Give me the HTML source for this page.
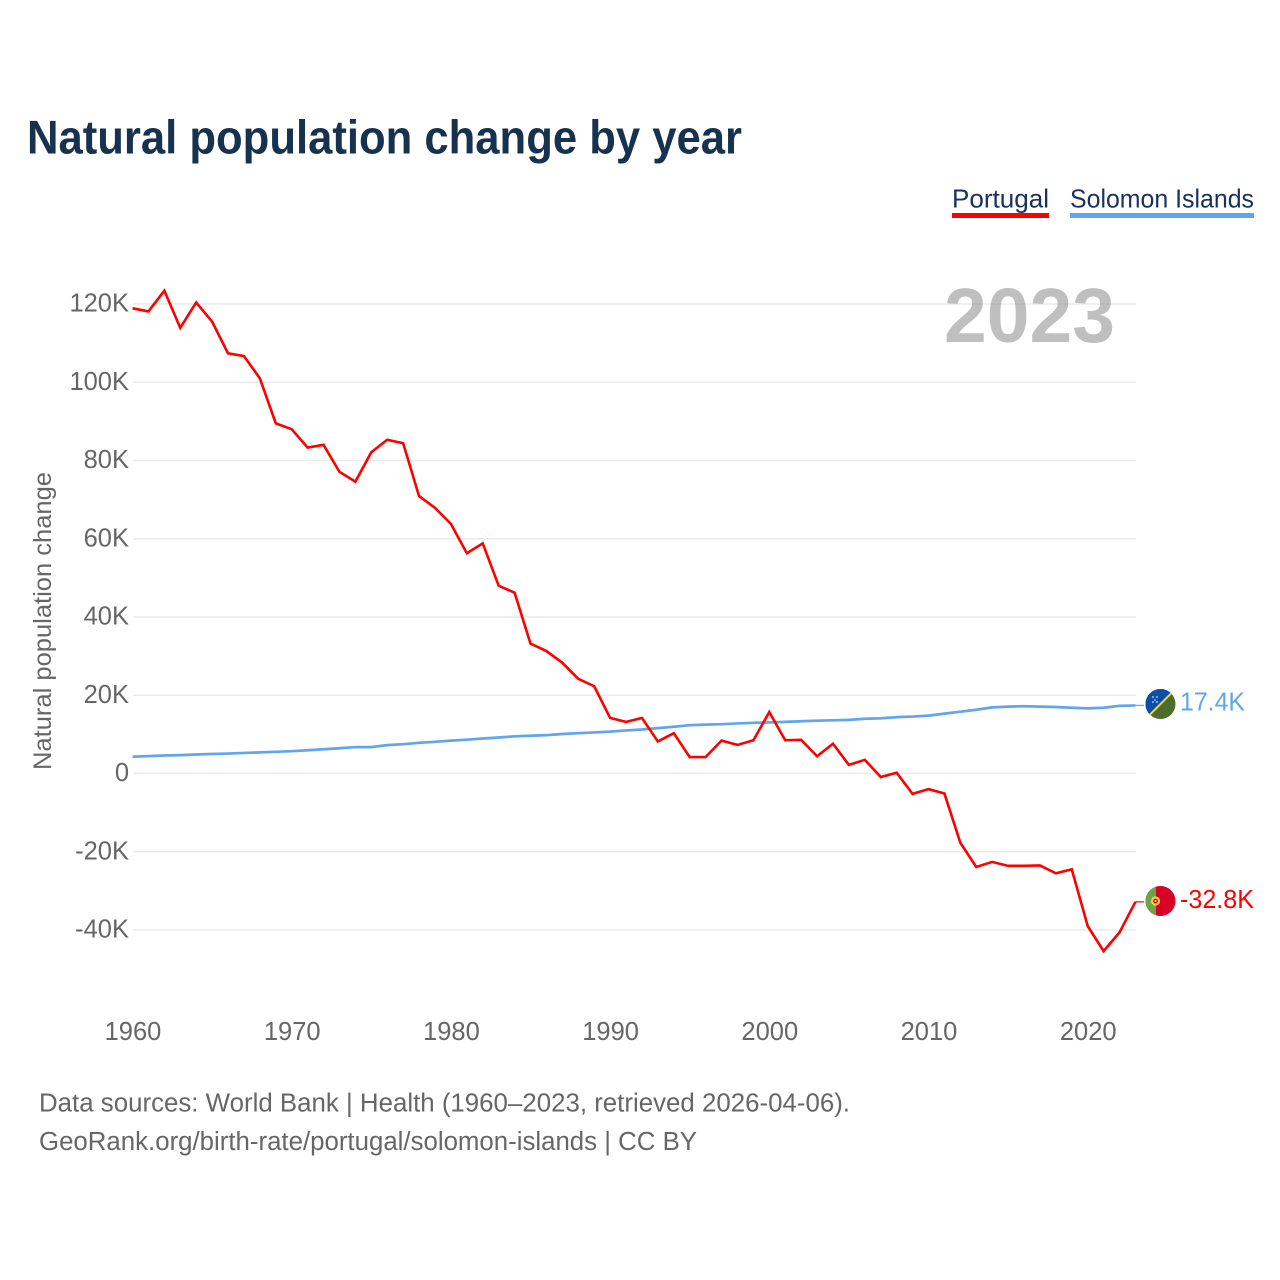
<!DOCTYPE html>
<html lang="en">
<head>
<meta charset="utf-8">
<title>Natural population change by year</title>
<style>
html,body{margin:0;padding:0;background:#fff;}
svg{display:block;font-family:"Liberation Sans",sans-serif;}
</style>
</head>
<body>
<svg id="chart" width="1280" height="1280" viewBox="0 0 1280 1280" xmlns="http://www.w3.org/2000/svg">
  <defs>
    <clipPath id="clip-si"><circle cx="1160.5" cy="704" r="15"/></clipPath>
    <clipPath id="clip-pt"><circle cx="1160.5" cy="901" r="15"/></clipPath>
  </defs>
  <text x="27" y="153.5" font-size="47" font-weight="700" fill="#17324f" textLength="715" lengthAdjust="spacingAndGlyphs">Natural population change by year</text>

  <g>
    <text x="952" y="207.5" font-size="26" fill="#17325c" textLength="97" lengthAdjust="spacingAndGlyphs">Portugal</text>
    <rect x="952" y="213" width="97" height="5" fill="#ff0000"/>
  </g>
  <g>
    <text x="1070" y="207.5" font-size="26" fill="#17325c" textLength="184" lengthAdjust="spacingAndGlyphs">Solomon Islands</text>
    <rect x="1070" y="213" width="184" height="5" fill="#61a5ea"/>
  </g>

  <g id="grid"></g>
  <text x="944" y="342" font-size="77" font-weight="700" fill="#7f7f7f" fill-opacity="0.5" textLength="171" lengthAdjust="spacingAndGlyphs">2023</text>
  <g id="y-ticks"></g>
  <g id="x-ticks"></g>
  <text transform="translate(51,621) rotate(-90)" text-anchor="middle" font-size="25" fill="#666666" textLength="298" lengthAdjust="spacingAndGlyphs">Natural population change</text>

  <g id="series"></g>

  <g clip-path="url(#clip-si)">
    <rect x="1145" y="689" width="31" height="30" fill="#4c6d2c"/>
    <polygon points="1145.5,689 1175.5,689 1145.5,719" fill="#0b50a8"/>
    <line x1="1145.5" y1="719" x2="1175.5" y2="689" stroke="#f7d33c" stroke-width="2"/>
    <g fill="#ffffff">
      <circle cx="1153" cy="697" r="0.8"/><circle cx="1157" cy="697" r="0.8"/>
      <circle cx="1155" cy="700" r="0.8"/><circle cx="1153" cy="702" r="0.8"/>
      <circle cx="1157" cy="702" r="0.8"/>
    </g>
  </g>
  <g clip-path="url(#clip-pt)">
    <rect x="1145" y="886" width="31" height="30" fill="#d80027"/>
    <rect x="1145" y="886" width="11" height="30" fill="#6da544"/>
    <circle cx="1155.5" cy="901" r="4.6" fill="#f5d33c"/>
    <circle cx="1155.5" cy="901" r="2.4" fill="#d80027"/>
    <circle cx="1155.5" cy="901" r="1" fill="#ffffff"/>
  </g>
  <text x="1180" y="710.5" font-size="25.5" fill="#61a5ea" textLength="65" lengthAdjust="spacingAndGlyphs">17.4K</text>
  <text x="1180" y="908" font-size="25.5" fill="#ff0000" textLength="74" lengthAdjust="spacingAndGlyphs">-32.8K</text>

  <text x="39" y="1111.5" font-size="25.5" fill="#666666" textLength="811" lengthAdjust="spacingAndGlyphs">Data sources: World Bank | Health (1960–2023, retrieved 2026-04-06).</text>
  <text x="39" y="1150" font-size="25.5" fill="#666666" textLength="658" lengthAdjust="spacingAndGlyphs">GeoRank.org/birth-rate/portugal/solomon-islands | CC BY</text>
</svg>
<script>
var startYear = 1960;
var xTickYears = [1960, 1970, 1980, 1990, 2000, 2010, 2020];
var yTickValues = [120, 100, 80, 60, 40, 20, 0, -20, -40];
var yTickLabels = ['120K', '100K', '80K', '60K', '40K', '20K', '0', '-20K', '-40K'];
var portugal = [118.9,118.1,123.4,113.9,120.4,115.5,107.4,106.7,101.0,89.5,
  88.0,83.3,84.0,77.1,74.6,82.1,85.3,84.4,70.9,67.9,
  63.8,56.3,58.8,48.0,46.2,33.2,31.3,28.3,24.2,22.3,
  14.2,13.2,14.2,8.2,10.3,4.2,4.2,8.4,7.3,8.5,
  15.7,8.5,8.6,4.4,7.6,2.2,3.5,-0.9,0.2,-5.2,
  -4.0,-5.1,-17.7,-23.9,-22.6,-23.6,-23.6,-23.5,-25.5,-24.5,
  -39.0,-45.4,-40.6,-32.8];
var solomonIslands = [4.3,4.45,4.6,4.7,4.85,5.0,5.1,5.25,5.4,5.55,
  5.7,5.95,6.2,6.45,6.75,6.75,7.25,7.5,7.85,8.1,
  8.4,8.65,8.95,9.2,9.5,9.65,9.8,10.1,10.3,10.5,
  10.7,11.0,11.25,11.6,11.95,12.35,12.5,12.6,12.8,12.95,
  13.05,13.2,13.35,13.5,13.6,13.7,14.0,14.1,14.4,14.55,
  14.8,15.3,15.8,16.3,16.9,17.1,17.2,17.1,17.0,16.8,
  16.65,16.8,17.3,17.4];

var NS = 'http://www.w3.org/2000/svg';
function xScale(year) { return 132.5 + (year - 1960) * 15.92; }
function yScale(v) { return 773.5 - v * 3.9125; }

var gridGroup = document.getElementById('grid');
var yGroup = document.getElementById('y-ticks');
var xGroup = document.getElementById('x-ticks');
var seriesGroup = document.getElementById('series');

yTickValues.forEach(function (v, i) {
  var line = document.createElementNS(NS, 'line');
  
  
  line.setAttribute('x1', 133);
  line.setAttribute('x2', 1136);
  line.setAttribute('y1', yScale(v));
  line.setAttribute('y2', yScale(v));
  line.setAttribute('stroke', '#ebebeb');
  line.setAttribute('stroke-width', '1.5');
  gridGroup.appendChild(line);

  var label = document.createElementNS(NS, 'text');
  
  
  label.setAttribute('x', 129);
  label.setAttribute('y', yScale(v) + 7.7);
  label.setAttribute('text-anchor', 'end');
  label.setAttribute('font-size', '25.5');
  label.setAttribute('fill', '#666666');
  label.textContent = yTickLabels[i];
  yGroup.appendChild(label);
});

xTickYears.forEach(function (year) {
  var label = document.createElementNS(NS, 'text');
  
  
  label.setAttribute('x', xScale(year) + 0.5);
  label.setAttribute('y', 1040);
  label.setAttribute('text-anchor', 'middle');
  label.setAttribute('font-size', '25.5');
  label.setAttribute('fill', '#666666');
  label.textContent = String(year);
  xGroup.appendChild(label);
});

function pointsFor(values) {
  return values.map(function (v, i) {
    return xScale(startYear + i).toFixed(2) + ',' + yScale(v).toFixed(2);
  }).join(' ');
}

function lastY(values) { return yScale(values[values.length - 1]); }

var blueLine = document.createElementNS(NS, 'polyline');


blueLine.setAttribute('points', pointsFor(solomonIslands));
blueLine.setAttribute('fill', 'none');
blueLine.setAttribute('stroke', '#61a5ea');
blueLine.setAttribute('stroke-width', '2.7');
blueLine.setAttribute('stroke-linejoin', 'round');
seriesGroup.appendChild(blueLine);

var redLine = document.createElementNS(NS, 'polyline');


redLine.setAttribute('points', pointsFor(portugal));
redLine.setAttribute('fill', 'none');
redLine.setAttribute('stroke', '#ff0000');
redLine.setAttribute('stroke-width', '2.6');
redLine.setAttribute('stroke-linejoin', 'miter');
seriesGroup.appendChild(redLine);

var blueStub = document.createElementNS(NS, 'line');


blueStub.setAttribute('x1', xScale(2023));
blueStub.setAttribute('x2', 1144);
blueStub.setAttribute('y1', lastY(solomonIslands));
blueStub.setAttribute('y2', lastY(solomonIslands));
blueStub.setAttribute('stroke', '#61a5ea');
blueStub.setAttribute('stroke-width', '1.2');
seriesGroup.appendChild(blueStub);

var redStub = document.createElementNS(NS, 'line');


redStub.setAttribute('x1', xScale(2023));
redStub.setAttribute('x2', 1144);
redStub.setAttribute('y1', lastY(portugal));
redStub.setAttribute('y2', lastY(portugal));
redStub.setAttribute('stroke', '#ff0000');
redStub.setAttribute('stroke-width', '1.2');
seriesGroup.appendChild(redStub);
</script>
</body>
</html>
